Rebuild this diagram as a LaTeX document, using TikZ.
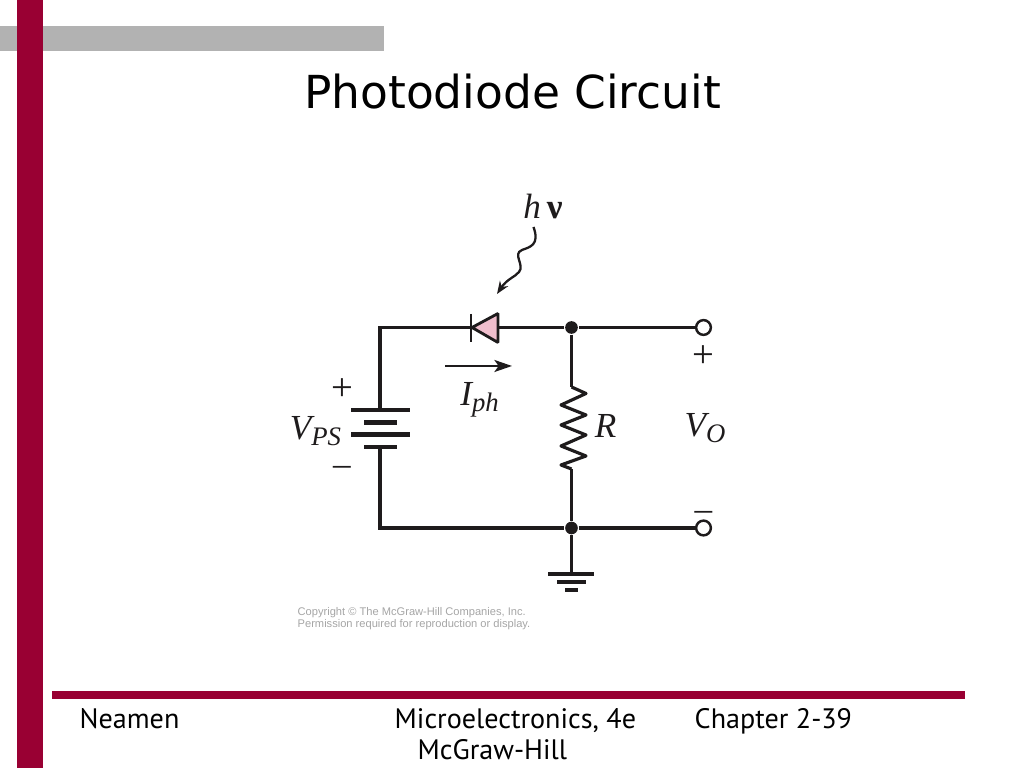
\documentclass[tikz,border=0pt]{standalone}
\usepackage{fontspec}
\usetikzlibrary{arrows.meta}
\setmainfont{DejaVu Sans}
\newfontfamily\footfont{PT Sans}
\newfontfamily\labelfont{Liberation Serif}
\newfontfamily\smallfont{Liberation Sans}
\definecolor{maroon}{RGB}{153, 0, 51}
\definecolor{barblock}{RGB}{178, 178, 178}
\definecolor{diodepink}{RGB}{240, 190, 205}
\definecolor{wiregray}{RGB}{30, 27, 28}
\definecolor{notegray}{RGB}{165, 165, 165}
\newcommand{\sublabel}[2]{{\labelfont\itshape\fontsize{10}{10}\selectfont #1\raisebox{-1.6pt}{\fontsize{7.6}{8}\selectfont #2}}}
\tikzset{
    wire/.style={line width=0.9pt, color=wiregray},
    plate/.style={line width=1.15pt, color=wiregray},
    dotnode/.style={circle, fill=wiregray, inner sep=0pt, minimum size=3.6pt},
    terminal/.style={circle, draw=wiregray, line width=0.7pt, fill=white, inner sep=0pt, minimum size=4.2pt},
    footer/.style={anchor=base west, inner sep=0pt, font=\footfont\fontsize{8}{8}\selectfont},
    plussign/.style={inner sep=0pt, color=wiregray, font=\labelfont\fontsize{11}{11}\selectfont},
    minussign/.style={inner sep=0pt, color=wiregray, font=\labelfont\fontsize{10}{10}\selectfont},
    tag/.style={inner sep=0pt, color=wiregray}
}
\begin{document}
\begin{tikzpicture}[x=0.01cm, y=-0.01cm]
    \useasboundingbox (0, 0) rectangle (1024, 768);
    % slide frame
    \fill[barblock] (0, 26) rectangle (384, 51);
    \fill[maroon] (17, 0) rectangle (43, 768);
    \fill[maroon] (52, 691) rectangle (965, 699);
    \node[inner sep=0pt, font=\fontsize{12.93}{14}\selectfont] (title) at (512.5, 92) {Photodiode Circuit};
    \node[footer] (author) at (79, 729) {Neamen};
    \node[footer] (book) at (394, 729) {Microelectronics, 4e};
    \node[footer] (chapter) at (694, 729) {Chapter 2-39};
    \node[footer] (publisher) at (417, 760) {McGraw-Hill};
    % circuit points
    \coordinate (corner top) at (380, 327.5);
    \coordinate (corner bot) at (380, 528);
    \coordinate (diode tip) at (472, 327.5);
    \coordinate (diode base) at (498, 327.5);
    \coordinate (bat top) at (380, 410);
    \coordinate (bat bot) at (380, 447);
    \coordinate (res top) at (571.5, 387);
    \coordinate (res bot) at (571.5, 469);
    \coordinate (gnd) at (571.5, 574);
    \node[dotnode] (top dot) at (571.5, 327.5) {};
    \node[dotnode] (bot dot) at (571.5, 528) {};
    \node[terminal] (top term) at (703.5, 327.5) {};
    \node[terminal] (bot term) at (703.5, 528) {};
    % wires
    \draw[wire] (top term) -- (top dot) -- (diode base);
    \draw[wire] (471, 327.5) -- (corner top) -- (bat top);
    \draw[wire] (bat bot) -- (corner bot) -- (bot dot) -- (bot term);
    \draw[wire] (top dot) -- (res top);
    \draw[wire] (res bot) -- (bot dot) -- (gnd);
    % diode
    \draw[wire, line width=0.8pt, fill=diodepink, line join=bevel] (diode tip) -- (498, 313.5) -- (498, 342.5) -- cycle;
    \draw[wire, line width=0.8pt] (471, 314) -- (471, 342);
    % battery
    \draw[plate] (351, 410) -- (410, 410);
    \draw[plate] (364, 422.5) -- (397, 422.5);
    \draw[plate] (351, 434.5) -- (410, 434.5);
    \draw[plate] (364, 447) -- (397, 447);
    % resistor
    \draw[wire, line join=round] (res top) -- (586, 393.5) -- (561, 405) -- (586, 415) -- (561, 425) -- (586, 435) -- (561, 446) -- (586, 456) -- (561, 465) -- (res bot);
    % ground
    \draw[plate] (548, 574) -- (594, 574);
    \draw[plate] (557, 582) -- (586, 582);
    \draw[plate] (565, 590) -- (578, 590);
    % light and current arrows
    \coordinate (light start) at (533.5, 227);
    \coordinate (light end) at (497, 294);
    \draw[wire, line width=0.65pt, -{Stealth[length=3.6pt, width=2.8pt]}] (light start) .. controls (540, 245) and (530, 247) .. (522, 250)
        .. controls (512, 254) and (525, 265) .. (519, 272) .. controls (515, 277) and (507, 279) .. (light end);
    \coordinate (cur start) at (445, 366);
    \coordinate (cur end) at (512, 366);
    \draw[wire, line width=0.7pt, -{Stealth[length=5pt, width=3.4pt, inset=1.2pt]}] (cur start) -- (cur end);
    % labels
    \node[tag, font=\labelfont\fontsize{10}{10}\selectfont] (hnu) at (543, 206) {\textit{h}\,\textbf{ν}};
    \node[plussign] (plus bat) at (342, 390) {+};
    \node[minussign] (minus bat) at (342, 471) {–};
    \node[plussign] (plus out) at (703.5, 357) {+};
    \node[minussign] (minus out) at (703.5, 515.5) {–};
    \node[tag] (vps) at (315.5, 431) {\sublabel{V}{PS}};
    \node[tag] (iph) at (479.5, 400) {\sublabel{I}{ph}};
    \node[tag] (rlabel) at (605.5, 429) {\sublabel{R}{}};
    \node[tag] (vout) at (705, 428) {\sublabel{V}{O}};
    \node[anchor=west, align=left, inner sep=0pt, color=notegray, font=\smallfont\fontsize{3.16}{3.4}\selectfont] (copyright) at (297, 618.5)
        {Copyright © The McGraw-Hill Companies, Inc.\\Permission required for reproduction or display.};
\end{tikzpicture}
\end{document}
